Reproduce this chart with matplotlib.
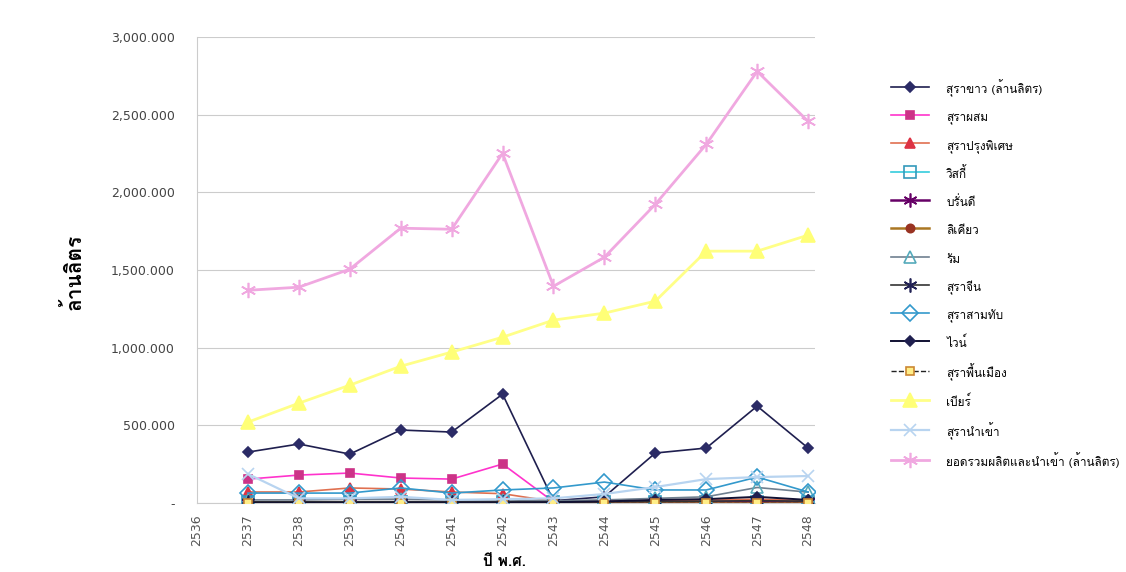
import matplotlib
matplotlib.use("Agg")
import matplotlib.pyplot as plt
from matplotlib import font_manager, ft2font
from matplotlib.ticker import FuncFormatter

# ---- find a font with Thai glyphs ----
thai_family = None
for f in font_manager.fontManager.ttflist:
    try:
        ft = ft2font.FT2Font(f.fname)
        if 0x0E01 in ft.get_charmap() and 0x0E49 in ft.get_charmap():
            thai_family = f.name
            break
    except Exception:
        pass
families = ([thai_family] if thai_family else []) + ["DejaVu Sans"]
plt.rcParams["font.family"] = families

# ---- data ----
years = ["2536", "2537", "2538", "2539", "2540", "2541", "2542", "2543", "2544", "2545", "2546", "2547", "2548"]
x_years = [2537, 2538, 2539, 2540, 2541, 2542, 2543, 2544, 2545, 2546, 2547, 2548]

white_liquor = [328000, 380000, 315000, 470000, 457000, 701000, 15000, 40000, 322000, 354000, 624000, 354000]
blended = [154000, 180000, 193000, 161000, 154000, 251000, 8000, 12000, 15000, 18000, 20000, 15000]
special = [71000, 71000, 97000, 90000, 71000, 60000, 10000, 12000, 15000, 18000, 25000, 15000]
whisky = [5000, 5000, 5000, 6000, 5000, 5000, 5000, 6000, 7000, 8000, 9000, 8000]
brandy = [3000, 3000, 3000, 3000, 3000, 3000, 3000, 3000, 4000, 4000, 5000, 4000]
liqueur = [2000, 2000, 2000, 2000, 2000, 2000, 2000, 2000, 2000, 2000, 2000, 2000]
rum = [20000, 20000, 25000, 25000, 20000, 20000, 15000, 20000, 30000, 40000, 100000, 70000]
chinese = [8000, 8000, 9000, 9000, 8000, 8000, 8000, 9000, 10000, 12000, 15000, 12000]
community = [64000, 64000, 64000, 97000, 64000, 84000, 97000, 135000, 84000, 84000, 167000, 71000]
wine = [2000, 2000, 2000, 3000, 3000, 3000, 5000, 10000, 20000, 25000, 40000, 20000]
local = [1000, 1000, 1000, 1000, 1000, 1000, 1000, 1000, 1000, 1000, 1000, 1000]
beer = [521000, 643000, 759000, 881000, 972000, 1068000, 1178000, 1223000, 1300000, 1622000, 1622000, 1725000]
imported = [187000, 30000, 30000, 40000, 20000, 25000, 30000, 58000, 103000, 154000, 167000, 174000]
total = [1370000, 1390000, 1506000, 1770000, 1763000, 2252000, 1396000, 1583000, 1924000, 2310000, 2780000, 2458000]

labels = ["สุราขาว (ล้านลิตร)", "สุราผสม", "สุราปรุงพิเศษ", "วิสกี้", "บรั่นดี", "ลิเคียว", "รัม",
          "สุราจีน", "สุราสามทับ", "ไวน์", "สุราพื้นเมือง", "เบียร์", "สุรานำเข้า",
          "ยอดรวมผลิตและนำเข้า (ล้านลิตร)"]
series = [white_liquor, blended, special, whisky, brandy, liqueur, rum, chinese,
          community, wine, local, beer, imported, total]

styles = [
    dict(color="#1f1f4f", marker="D", ms=5, mfc="#2b2b66", mec="#2b2b66", lw=1.2),
    dict(color="#ff33cc", marker="s", ms=6, mfc="#cc3388", mec="#cc3388", lw=1.2),
    dict(color="#e07050", marker="^", ms=7, mfc="#dd3344", mec="#dd3344", lw=1.2),
    dict(color="#33ccdd", marker="s", ms=8, mfc="none", mec="#3399bb", lw=1.2),
    dict(color="#660066", marker=(6, 2, 0), ms=10, mfc="#660066", mec="#660066", lw=1.8),
    dict(color="#aa7722", marker="o", ms=6, mfc="#993322", mec="#993322", lw=1.8),
    dict(color="#708090", marker="^", ms=9, mfc="none", mec="#55aabb", lw=1.2),
    dict(color="#333333", marker=(6, 2, 0), ms=10, mfc="#222255", mec="#222255", lw=1.2),
    dict(color="#3399cc", marker="D", ms=8, mfc="none", mec="#3399cc", lw=1.2),
    dict(color="#111133", marker="D", ms=5, mfc="#1f1f4f", mec="#1f1f4f", lw=1.4),
    dict(color="#222222", marker="s", ms=6, mfc="#ffee88", mec="#cc8833", lw=1.0, ls="--"),
    dict(color="#ffff88", marker="^", ms=10, mfc="#ffff77", mec="#ffff77", lw=2.0),
    dict(color="#b8d4f0", marker="x", ms=9, mfc="#b8d4f0", mec="#b8d4f0", lw=1.6),
    dict(color="#f0a8e0", marker=(6, 2, 0), ms=11, mfc="#f0a8e0", mec="#f0a8e0", lw=2.0),
]

fig = plt.figure(figsize=(11.26, 5.72), dpi=100)
ax = fig.add_axes([0.175, 0.1206, 0.549, 0.8144])

handles = []
for lab, vals, st in zip(labels, series, styles):
    st = dict(st)
    ls = st.pop("ls", "-")
    h, = ax.plot(x_years, vals, label=lab, linestyle=ls, markeredgewidth=1.2,
                 markersize=st.pop("ms"), **st, zorder=3)
    handles.append(h)

ax.set_xlim(2536, 2548.14)
ax.set_ylim(0, 3000000)
ax.set_xticks(range(2536, 2549))
ax.set_xticklabels(years, rotation=90, fontsize=9, color="#555555", family="DejaVu Sans")
ax.set_yticks([0, 500000, 1000000, 1500000, 2000000, 2500000, 3000000])
ax.yaxis.set_major_formatter(FuncFormatter(
    lambda v, p: "-" if v == 0 else "{:,}".format(int(v // 1000)) + ".000"))
for t in ax.get_yticklabels():
    t.set_fontsize(9)
    t.set_color("#444444")
    t.set_family("DejaVu Sans")
ax.tick_params(axis="x", length=0, pad=8)
ax.tick_params(axis="y", length=0, pad=16)
ax.grid(axis="y", color="#cccccc", lw=0.8)
ax.set_axisbelow(True)
for s in ["top", "right"]:
    ax.spines[s].set_visible(False)
ax.spines["left"].set_color("#cccccc")
ax.spines["bottom"].set_color("#cccccc")

fig.text(0.065, 0.525, "ล้านลิตร", fontsize=15, fontweight="bold", rotation=90,
         ha="center", va="center")
fig.text(0.448, 0.006, "ปี พ.ศ.", fontsize=11, fontweight="bold", ha="center", va="bottom")

leg = fig.legend(handles=handles, loc="upper left", bbox_to_anchor=(0.788, 0.868),
                 frameon=False, fontsize=8.5, handlelength=3.2, handleheight=1.8,
                 labelspacing=0.98, handletextpad=1.5, borderaxespad=0, borderpad=0.3)

fig.savefig("out.png", dpi=100, facecolor="white")
